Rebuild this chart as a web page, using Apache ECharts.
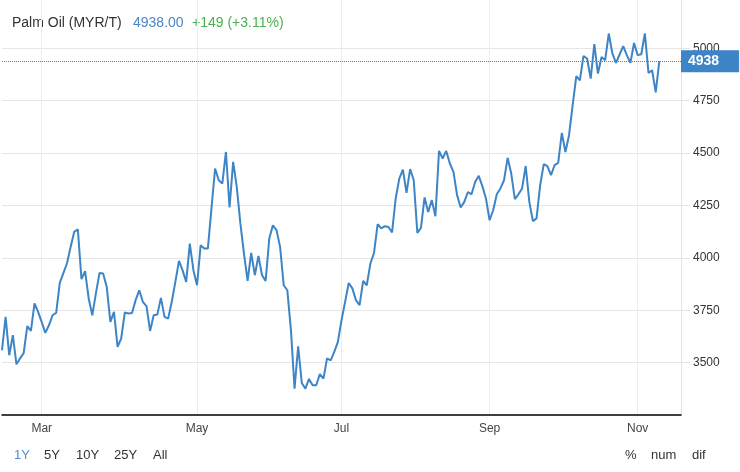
<!DOCTYPE html>
<html><head><meta charset="utf-8">
<script src="https://cdn.jsdelivr.net/npm/echarts@6/dist/echarts.min.js"></script>
<style>html,body{margin:0;padding:0;background:#fff}#c{width:740px;height:472px}</style>
</head><body><div id="c"></div>
<script>
// ---- data ----
const chartTitle = 'Palm Oil (MYR/T)';
const monthLabels = ['Mar', 'May', 'Jul', 'Sep', 'Nov'];
const febVals = [3559, 3718, 3535, 3631, 3492, 3520, 3545, 3674, 3651, 3782, 3742];
const marAprVals = [3693, 3642, 3678, 3726, 3737, 3880, 3927, 3974, 4052, 4124, 4136, 3898, 3936, 3806, 3726, 3830, 3928, 3925, 3861, 3694, 3742, 3575, 3615, 3739, 3734, 3737, 3798, 3845, 3790, 3769, 3651, 3726, 3729, 3809, 3718, 3710, 3790, 3885, 3985, 3940, 3885, 4068, 3941];
const mayJunVals = [3869, 4060, 4044, 4044, 4236, 4426, 4370, 4354, 4505, 4240, 4458, 4338, 4164, 4020, 3890, 4023, 3917, 4009, 3917, 3890, 4092, 4155, 4132, 4052, 3869, 3845, 3655, 3376, 3578, 3403, 3376, 3422, 3392, 3392, 3445, 3424, 3520, 3511, 3551, 3599];
const julAugVals = [3702, 3790, 3880, 3854, 3798, 3774, 3890, 3869, 3973, 4023, 4160, 4140, 4151, 4147, 4121, 4283, 4378, 4421, 4310, 4423, 4370, 4119, 4143, 4288, 4219, 4275, 4198, 4510, 4474, 4510, 4450, 4410, 4299, 4240, 4267, 4314, 4303, 4362, 4391, 4342, 4283];
const sepOctVals = [4179, 4227, 4303, 4331, 4370, 4477, 4402, 4280, 4303, 4331, 4438, 4267, 4175, 4188, 4346, 4447, 4437, 4394, 4442, 4453, 4596, 4505, 4585, 4728, 4866, 4847, 4963, 4951, 4855, 5019, 4879, 4958, 4943, 5070, 4975, 4930, 4970, 5010, 4967, 4930, 5025];
const novVals = [4967, 4971, 5070, 4882, 4895, 4789, 4938];
const rangeButtons = ['1Y', '5Y', '10Y', '25Y', 'All'];
const modeButtons = ['%', 'num', 'dif'];

// ---- build category axis from the month groups ----
const groups = [[null, febVals], [monthLabels[0], marAprVals], [monthLabels[1], mayJunVals],
                [monthLabels[2], julAugVals], [monthLabels[3], sepOctVals], [monthLabels[4], novVals]];
const categories = [], values = [], labelAt = {};
groups.forEach(([lab, arr], g) => arr.forEach((v, k) => {
  const idx = categories.length;
  if (k === 0 && lab) labelAt[idx] = lab;
  categories.push(g + '-' + k);
  values.push(v);
}));
for (let e = 0; e < 6; e++) categories.push('pad-' + e); // empty space after last quote

const last = values[values.length - 1];
const prev = values[values.length - 2];
const chg = last - prev;
const pct = chg / prev * 100;
const FONT = 'Liberation Sans, Arial, sans-serif';
const isTick = (i) => labelAt[i] !== undefined;

const chart = echarts.init(document.getElementById('c'), null, {renderer: 'canvas'});
const graphic = [
  {type: 'text', left: 12, top: 16, style: {text: chartTitle, fill: '#333', font: '14px ' + FONT}},
  {type: 'text', left: 133, top: 16, style: {text: last.toFixed(2), fill: '#4a86c8', font: '14px ' + FONT}},
  {type: 'text', left: 192, top: 16, style: {text: (chg >= 0 ? '+' : '') + chg + ' (' + (chg >= 0 ? '+' : '') + pct.toFixed(2) + '%)', fill: '#4caf50', font: '14px ' + FONT}}
];
const btnX = [14, 44, 76, 114, 153];
rangeButtons.forEach((b, i) => graphic.push({type: 'text', left: btnX[i], top: 449,
  style: {text: b, fill: i === 0 ? '#4a90d9' : '#333', font: '13px ' + FONT}}));
const modeX = [625, 651, 692];
modeButtons.forEach((b, i) => graphic.push({type: 'text', left: modeX[i], top: 449,
  style: {text: b, fill: '#333', font: '13px ' + FONT}}));

chart.setOption({
  animation: false,
  backgroundColor: '#fff',
  grid: {left: 2, right: 59, top: 0, bottom: 57, containLabel: false},
  graphic: graphic,
  xAxis: {
    type: 'category', boundaryGap: false, data: categories,
    axisLine: {lineStyle: {color: '#000', width: 1.5}},
    axisTick: {show: false},
    axisLabel: {interval: (i) => isTick(i), formatter: (v, i) => labelAt[i] || '',
      color: '#444', fontSize: 12, margin: 8, fontFamily: FONT},
    splitLine: {show: true, interval: (i) => isTick(i), lineStyle: {color: '#ececec', width: 1}}
  },
  yAxis: {
    type: 'value', position: 'right', min: 3250, max: 5230, interval: 250,
    axisLine: {show: true, lineStyle: {color: '#e3e3e3'}},
    axisTick: {show: true, length: 9, lineStyle: {color: '#e3e3e3'}},
    axisLabel: {color: '#333', fontSize: 12, margin: 12, showMinLabel: false, showMaxLabel: false,
      fontFamily: FONT, formatter: (v) => String(v)},
    splitLine: {show: true, showMaxLine: false, showMinLine: false, lineStyle: {color: '#e6e6e6'}}
  },
  series: [{
    type: 'line', data: values, showSymbol: false, smooth: false,
    lineStyle: {color: '#3d85c6', width: 2}, itemStyle: {color: '#3d85c6'},
    markLine: {
      symbol: 'none', silent: true, data: [{yAxis: last}],
      lineStyle: {type: 'dotted', color: '#3d85c6', width: 1},
      label: {position: 'end', distance: 0, formatter: () => String(last),
        backgroundColor: '#3d85c6', color: '#fff', fontSize: 14, fontWeight: 'bold',
        fontFamily: FONT, padding: [4, 20, 4, 7], lineHeight: 14}
    }
  }]
});
</script>
</body></html>
